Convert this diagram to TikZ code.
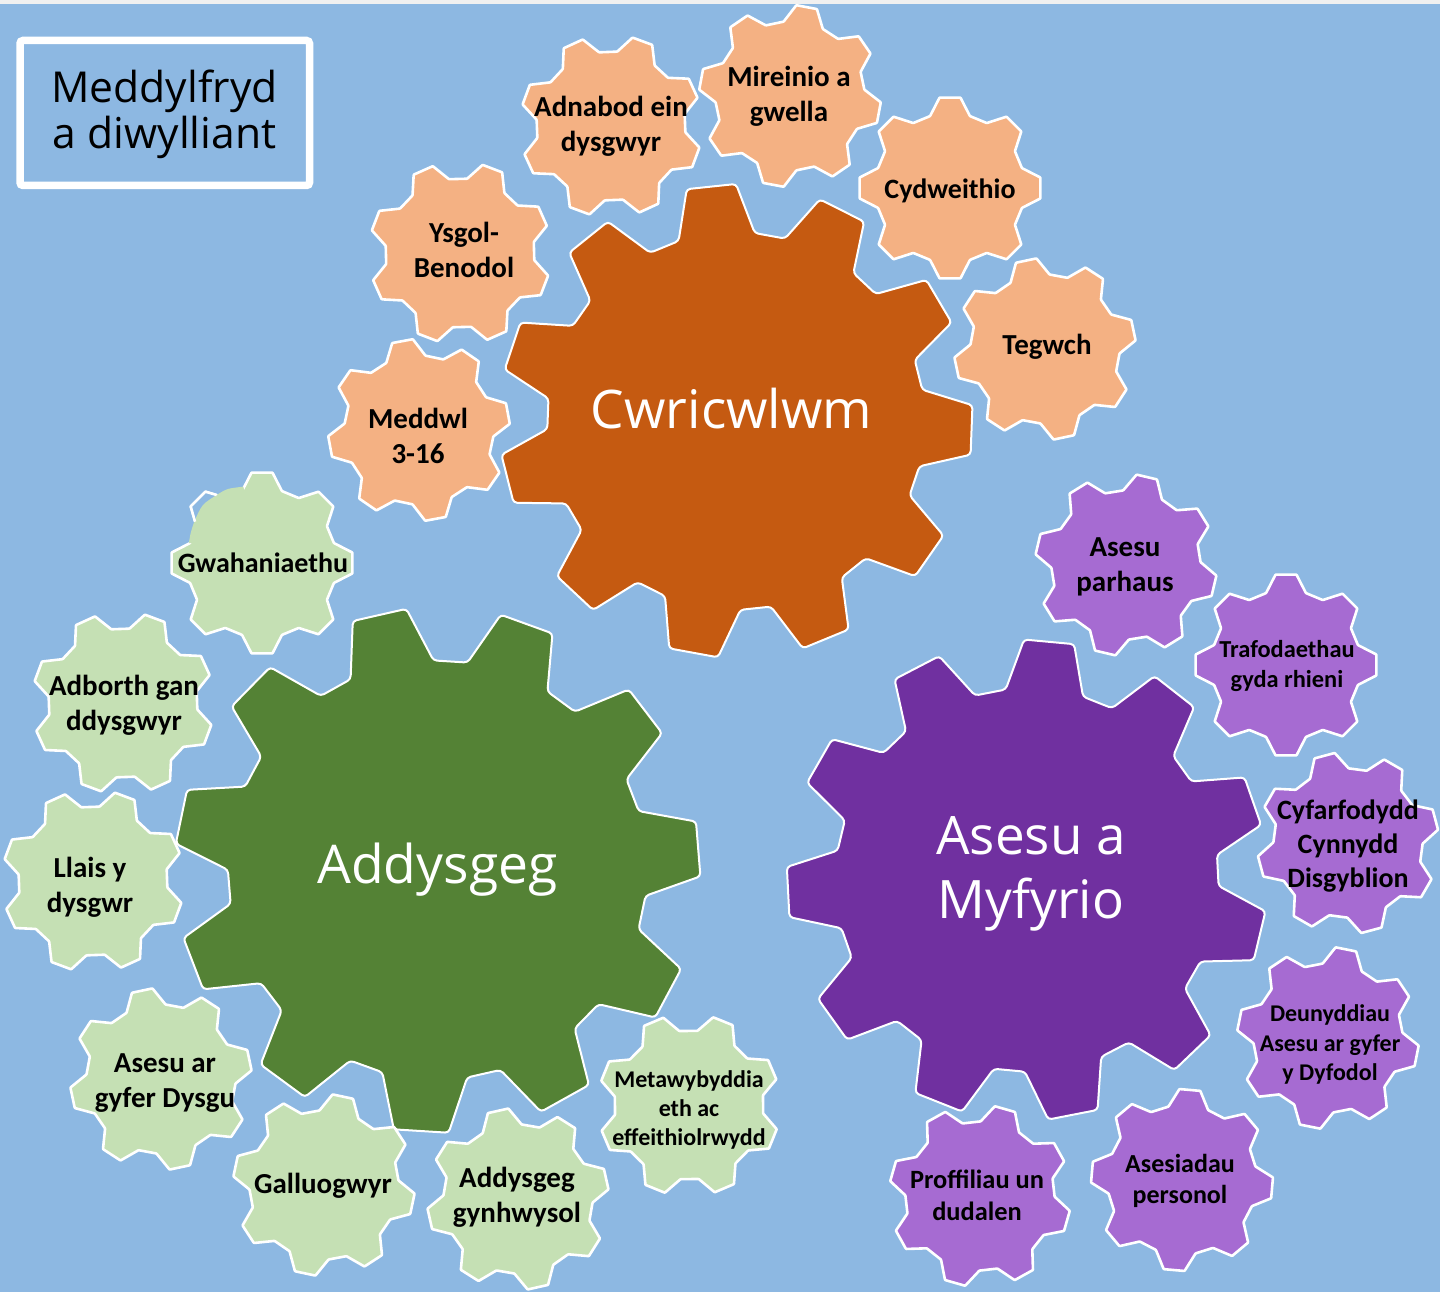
\documentclass[tikz,border=0pt]{standalone}
\usepackage{fontspec}
\setmainfont{Carlito}
\newfontfamily\opensans{Open Sans}
\definecolor{bgblue}{HTML}{8DB8E2}
\definecolor{topstrip}{HTML}{F0F0F0}
\definecolor{orangeA}{HTML}{C55A11}
\definecolor{orangeB}{HTML}{F4B183}
\definecolor{greenA}{HTML}{548235}
\definecolor{greenB}{HTML}{C5E0B4}
\definecolor{purpleA}{HTML}{7030A0}
\definecolor{purpleB}{HTML}{A66BD2}
\newcommand{\gearshape}[9]{%
  % cx cy R N phase tip base ratio style
  \pgfmathsetmacro{\gcy}{1292-#2}%
  \pgfmathsetmacro{\grin}{#3*#8}%
  \pgfmathtruncatemacro{\glast}{#4-1}%
  \begin{scope}[shift={(#1,\gcy)}]
  \draw[#9] ({#5-#7}:\grin) -- ({#5-#6}:#3) -- ({#5+#6}:#3) -- ({#5+#7}:\grin)
    \foreach \i [evaluate=\i as \a using #5+\i*360/#4] in {1,...,\glast} {
      -- ({\a-#7}:\grin) -- ({\a-#6}:#3) -- ({\a+#6}:#3) -- ({\a+#7}:\grin)
    } -- cycle;
  \end{scope}}
\newcommand{\smallgear}[4]{\gearshape{#1}{#2}{91}{8}{#3}{6.6}{15.5}{0.82}{#4}}
\newcommand{\biggear}[5]{\gearshape{#1}{#2}{#3}{11}{#4}{6}{11.7}{0.797}{#5}}
\newcommand{\lab}[5]{\pgfmathsetmacro{\ly}{1292-#3}\pgfmathsetmacro{\lsk}{#4*1.21}\node[labeltext,font=\fontsize{#4}{\lsk}\selectfont\bfseries] (#1) at (#2,\ly) {#5};}
\tikzset{
  x=0.5pt,y=0.5pt,
  labeltext/.style={inner sep=0pt,align=center,text=black},
  bigtext/.style={inner sep=0pt,align=center},
  biggearstyle/.style={draw=white,line width=1pt,rounded corners=1.8pt,line join=round,fill=#1},
  smallgearstyle/.style={draw=white,line width=1.3pt,rounded corners=0.3pt,line join=round,fill=#1},
}
\begin{document}
\begin{tikzpicture}
\useasboundingbox (0,0) rectangle (1440,1292);
\fill[bgblue] (0,0) rectangle (1440,1292);
\fill[topstrip] (0,1288) rectangle (1440,1292);
% title box
\draw[white,line width=3.75pt,rounded corners=1.5pt] (20,1251.5) rectangle (309.5,1106.5);
\node[bigtext,text=black,font=\opensans\fontsize{21.3}{23}\selectfont] (title) at (164.5,1178) {Meddylfryd\\a diwylliant};
% large gears
\biggear{736}{421}{237}{96}{biggearstyle=orangeA}
\biggear{437.5}{870}{263}{102.8}{biggearstyle=greenA}
\biggear{1027}{880}{240.5}{84.7}{biggearstyle=purpleA}
\node[bigtext,text=white,font=\opensans\fontsize{26.6}{32}\selectfont] (cwr) at (731.5,883) {Cwricwlwm};
\node[bigtext,text=white,font=\opensans\fontsize{26.7}{32}\selectfont] (add) at (437.5,422) {Addysgeg};
\node[bigtext,text=white,font=\opensans\fontsize{26.5}{32}\selectfont] (ase) at (1031,418) {Asesu a\\Myfyrio};
% orange
\smallgear{460}{253}{24}{smallgearstyle=orangeB}
\smallgear{419}{430}{10.5}{smallgearstyle=orangeB}
\smallgear{611}{126}{24.7}{smallgearstyle=orangeB}
\smallgear{790}{96}{34.4}{smallgearstyle=orangeB}
\smallgear{950}{188}{0}{smallgearstyle=orangeB}
\smallgear{1045}{349}{12}{smallgearstyle=orangeB}
% green
\smallgear{262}{563}{0}{smallgearstyle=greenB}
\begin{scope}[shift={(0,1292)},yscale=-1]
  \fill[bgblue] (216.7,495) -- (205.4,491.7) -- (190.7,506.4) -- (195,521.7) -- (205,520) -- (222,500) -- cycle;
  \fill[greenB] plot[smooth] coordinates {(243.3,486.7) (228,489) (216.7,495) (203,505) (195,520) (190.7,533) (189,543)} -- (215,545) -- (250,510) -- cycle;
  \draw[white,line width=1.3pt,line join=round] (216.7,495) -- (205.4,491.7) -- (190.7,506.4) -- (195,521.7);
\end{scope}
\smallgear{123}{703}{24.5}{smallgearstyle=greenB}
\smallgear{93}{881}{24.5}{smallgearstyle=greenB}
\smallgear{161}{1079}{12}{smallgearstyle=greenB}
\smallgear{324}{1185}{33}{smallgearstyle=greenB}
\smallgear{518}{1199}{12.7}{smallgearstyle=greenB}
\smallgear{689}{1105}{23}{smallgearstyle=greenB}
% purple
\smallgear{1126}{565}{31.7}{smallgearstyle=purpleB}
\smallgear{1286}{665}{0}{smallgearstyle=purpleB}
\smallgear{1348}{843}{15}{smallgearstyle=purpleB}
\smallgear{1328}{1038}{33.6}{smallgearstyle=purpleB}
\smallgear{980}{1196}{29}{smallgearstyle=purpleB}
\smallgear{1182}{1180}{40}{smallgearstyle=purpleB}
% labels
\lab{l1}{464}{249.5}{14.5}{Ysgol-\\Benodol}
\lab{l2}{418}{436}{14.5}{Meddwl\\3-16}
\lab{l3}{611}{126.5}{14.5}{Adnabod ein\\dysgwyr}
\lab{l4}{789}{96.5}{14.5}{Mireinio a\\gwella}
\lab{l5}{950}{191}{14}{Cydweithio}
\lab{l6}{1047}{347}{14.5}{Tegwch}
\lab{l7}{263}{563}{14}{Gwahaniaethu}
\lab{l8}{124}{705.5}{14.5}{Adborth gan\\ddysgwyr}
\lab{l9}{90}{887}{14.5}{Llais y\\dysgwr}
\lab{l10}{165}{1083}{14.5}{Asesu ar\\gyfer Dysgu}
\lab{l11}{323}{1186}{14.5}{Galluogwyr}
\lab{l12}{517}{1197}{14.5}{Addysgeg\\gynhwysol}
\lab{l13}{689}{1110}{12}{Metawybyddia\\eth ac\\effeithiolrwydd}
\lab{l14}{1125}{566.5}{14.5}{Asesu\\parhaus}
\lab{l15}{1287}{666}{12.2}{Trafodaethau\\gyda rhieni}
\lab{l16}{1348}{846}{14}{Cyfarfodydd\\Cynnydd\\Disgyblion}
\lab{l17}{1330}{1044.5}{12}{Deunyddiau\\Asesu ar gyfer\\y Dyfodol}
\lab{l18}{977}{1195}{13.2}{Proffiliau un\\dudalen}
\lab{l19}{1180}{1181}{13}{Asesiadau\\personol}
\end{tikzpicture}
\end{document}
